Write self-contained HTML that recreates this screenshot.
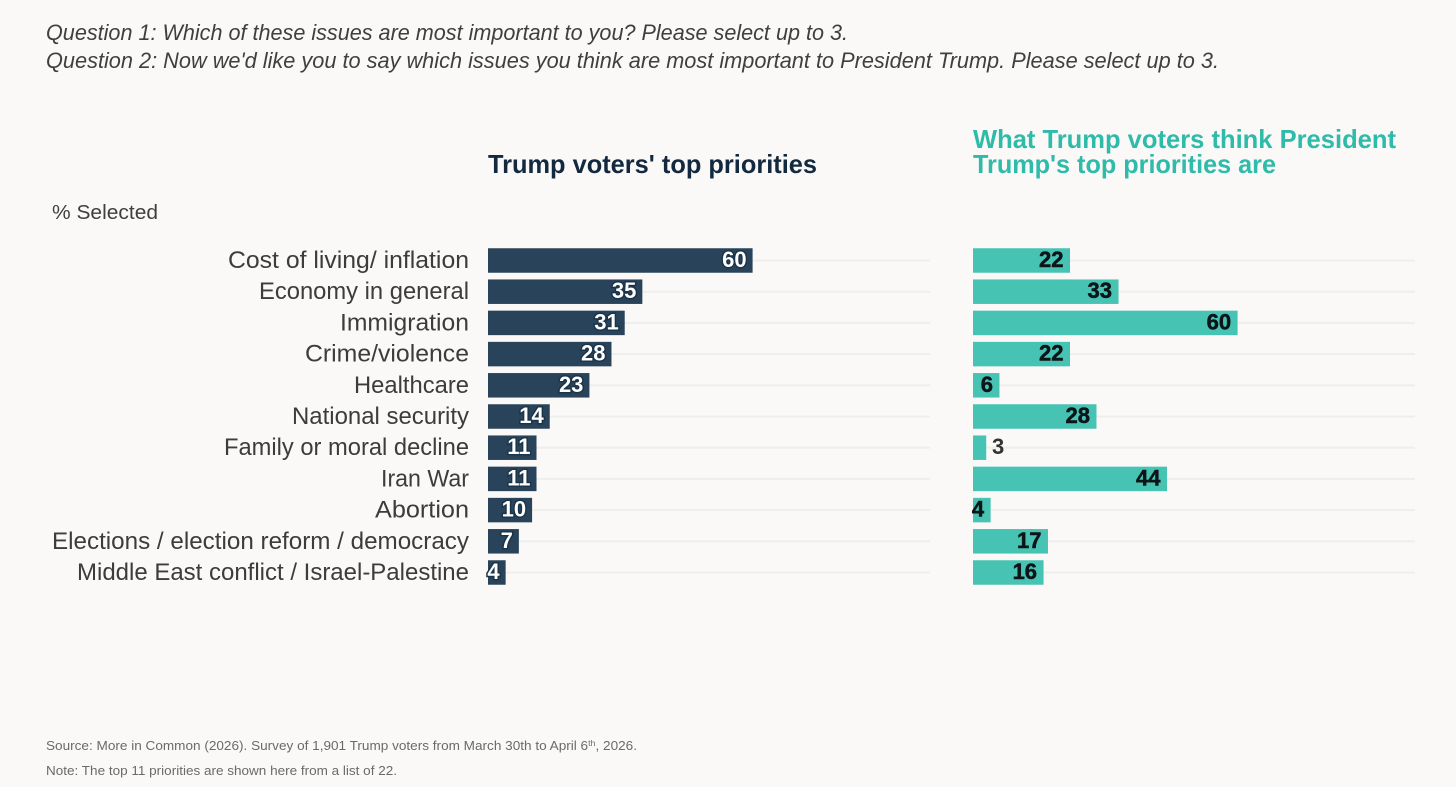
<!DOCTYPE html>
<html lang="en">
<head>
<meta charset="utf-8">
<title>Trump voters' top priorities</title>
<style>
html,body{margin:0;padding:0;background:#fbf9f7;width:1456px;height:787px;overflow:hidden}
svg{display:block;font-family:"Liberation Sans",sans-serif}
.q{font-size:22px;font-style:italic;fill:#3f3f3f}
.h{font-size:26px;font-weight:700}
.cat{font-size:24px;fill:#3c3c3c;text-anchor:end}
.val{font-size:22px;font-weight:700;text-anchor:end}
.foot{font-size:13px;fill:#6a6a6a}
</style>
</head>
<body>
<svg id="chart" width="1456" height="787" viewBox="0 0 1456 787" xmlns="http://www.w3.org/2000/svg">
  <text class="q" x="46" y="40" textLength="802" lengthAdjust="spacingAndGlyphs">Question 1: Which of these issues are most important to you? Please select up to 3.</text>
  <text class="q" x="46" y="68" textLength="1173" lengthAdjust="spacingAndGlyphs">Question 2: Now we'd like you to say which issues you think are most important to President Trump. Please select up to 3.</text>
  <text class="h" x="488" y="173" fill="#12293f" textLength="329" lengthAdjust="spacingAndGlyphs">Trump voters' top priorities</text>
  <text class="h" x="973" y="148" fill="#2fbba9" textLength="423" lengthAdjust="spacingAndGlyphs">What Trump voters think President</text>
  <text class="h" x="973" y="173" fill="#2fbba9" textLength="303" lengthAdjust="spacingAndGlyphs">Trump's top priorities are</text>
  <text x="52" y="219" font-size="20" fill="#3f3f3f" textLength="106" lengthAdjust="spacingAndGlyphs">% Selected</text>
  <g id="grid"></g>
  <g id="labels"></g>
  <g id="left"></g>
  <g id="right"></g>
  <text class="foot" x="46" y="750" textLength="591" lengthAdjust="spacingAndGlyphs">Source: More in Common (2026). Survey of 1,901 Trump voters from March 30th to April 6<tspan font-size="8.5" dy="-4">th</tspan><tspan dy="4">, 2026.</tspan></text>
  <text class="foot" x="46" y="775" textLength="351" lengthAdjust="spacingAndGlyphs">Note: The top 11 priorities are shown here from a list of 22.</text>
</svg>
<script>
const categories = ["Cost of living/ inflation","Economy in general","Immigration","Crime/violence","Healthcare","National security","Family or moral decline","Iran War","Abortion","Elections / election reform / democracy","Middle East conflict / Israel-Palestine"];
const voterValues = [60,35,31,28,23,14,11,11,10,7,4];
const trumpValues = [22,33,60,22,6,28,3,44,4,17,16];

const NS = "http://www.w3.org/2000/svg";
const UNIT = 4.41;
const ROW0 = 260.5;
const STEP = 31.2;
const BAR_H = 24.5;
const GRID_W = 442;
const xScale = (origin, v) => origin + v * UNIT;
const yScale = i => ROW0 + i * STEP;

function labelFit() {
  return {
    "Cost of living/ inflation": 241,
    "Economy in general": 210,
    "Immigration": 129,
    "Crime/violence": 164,
    "Healthcare": 115,
    "National security": 177,
    "Family or moral decline": 245,
    "Iran War": 88,
    "Abortion": 94,
    "Elections / election reform / democracy": 417,
    "Middle East conflict / Israel-Palestine": 392
  };
}

function make(tag, parent, attrs) {
  const el = document.createElementNS(NS, tag);
  for (const k in attrs) el.setAttribute(k, attrs[k]);
  parent.appendChild(el);
  return el;
}

const gridG = document.getElementById("grid");
const labelG = document.getElementById("labels");
const fit = labelFit();

categories.forEach((c, i) => {
  const t = make("text", labelG, {class: "cat", x: 469, y: yScale(i) + 7.5});
  
  
  if (fit[c]) {
    t.setAttribute('textLength', fit[c]);
    t.setAttribute('lengthAdjust', 'spacingAndGlyphs');
  }
  t.textContent = c;
  [488, 973].forEach(o => {
    const g = make("rect", gridG, {x: o, y: yScale(i) - 1, width: GRID_W, height: 2, fill: "#eeeeec"});
    
    
  });
});

function drawSeries(groupId, values, origin, color, textFill, halo, haloW, inset) {
  const g = document.getElementById(groupId);
  values.forEach((v, i) => {
    const x1 = xScale(origin, v);
    const y = yScale(i);
    const r = make("rect", g, {x: origin, y: y - BAR_H / 2, width: x1 - origin, height: BAR_H, fill: color});
    
    
    const small = v <= 3;
    const t = make("text", g, {class: "val", x: small ? x1 + 18 : Math.max(x1 - inset, origin + (v < 10 ? 11 : 24)), y: y + 6.5});
    
    
    t.setAttribute('fill', small ? '#333333' : textFill);
    if (!small) {
      t.setAttribute('stroke', halo);
      t.setAttribute('stroke-width', haloW);
      t.setAttribute('paint-order', 'stroke');
    }
    t.textContent = v;
  });
}

drawSeries("left", voterValues, 488, "#29445a", "#ffffff", "#1b3448", 3, 6);
drawSeries("right", trumpValues, 973, "#47c3b3", "#0c1418", "#0c1418", 0.5, 6.5);
</script>
</body>
</html>
